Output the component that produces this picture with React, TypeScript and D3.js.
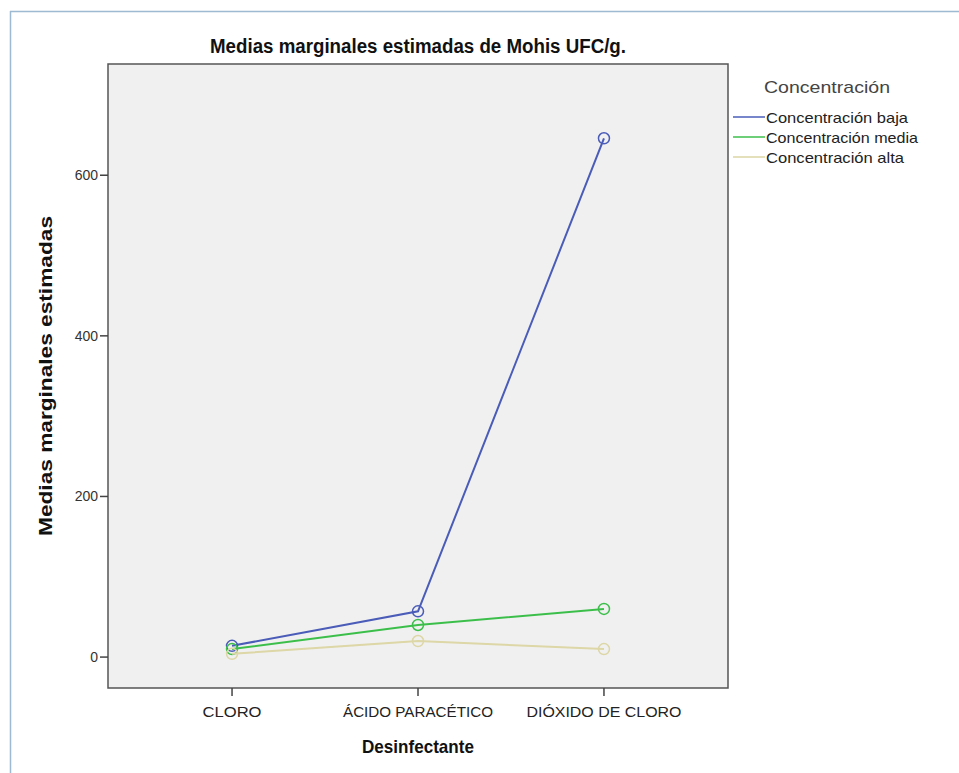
import React from "react";
import * as d3 from "d3";

const categories = ["CLORO", "ÁCIDO PARACÉTICO", "DIÓXIDO DE CLORO"];
const categoryWidths = [59, 150, 155];
const seriesNames = ["Concentración baja", "Concentración media", "Concentración alta"];
const legendWidths = [142, 152, 138];
const bajaValues = [14, 57, 646];
const mediaValues = [10, 40, 60];
const altaValues = [4, 20, 10];
const yTicks = [0, 200, 400, 600];
const colors = ["#4a5cb8", "#3cbf4a", "#ddd6a6"];

const W = 959;
const H = 773;
const plot = { left: 108, top: 64, right: 728, bottom: 688 };

export default function App() {
  const x = d3
    .scalePoint<string>()
    .domain(categories)
    .range([plot.left, plot.right])
    .padding(0.667);
  const y = d3
    .scaleLinear()
    .domain([-38.5, 738.5])
    .range([plot.bottom, plot.top]);

  const series = [bajaValues, mediaValues, altaValues];
  const line = d3
    .line<number>()
    .x((_, i) => x(categories[i]) as number)
    .y((d) => y(d));

  const font = "'Liberation Sans', Arial, sans-serif";
  const cx = (plot.left + plot.right) / 2;
  const cy = (plot.top + plot.bottom) / 2;

  return (
    <svg
      width={W}
      height={H}
      style={{ position: "absolute", left: 0, top: 0, background: "#fff" }}
      fontFamily={font}
    >
      <rect x={0} y={0} width={W} height={H} fill="#fff" />
      <line x1={10.5} y1={11} x2={10.5} y2={H} stroke="#9dbad2" strokeWidth={1.5} />
      <line x1={10} y1={11.5} x2={W} y2={11.5} stroke="#9dbad2" strokeWidth={1.5} />

      <text
        x={cx}
        y={53}
        textAnchor="middle"
        fontSize={20}
        fontWeight="bold"
        fill="#111"
        textLength={416}
        lengthAdjust="spacingAndGlyphs"
      >
        Medias marginales estimadas de Mohis UFC/g.
      </text>

      <rect
        x={plot.left}
        y={plot.top}
        width={plot.right - plot.left}
        height={plot.bottom - plot.top}
        fill="#f0f0f0"
        stroke="#555"
        strokeWidth={1.5}
      />

      {yTicks.map((t) => (
        <g key={t}>
          <line x1={plot.left - 8} x2={plot.left} y1={y(t)} y2={y(t)} stroke="#444" strokeWidth={1.5} />
          <text x={plot.left - 10} y={y(t) + 5} textAnchor="end" fontSize={14} fill="#333">
            {t}
          </text>
        </g>
      ))}

      {categories.map((c, i) => (
        <g key={c}>
          <line
            x1={x(c)}
            x2={x(c)}
            y1={plot.bottom}
            y2={plot.bottom + 8}
            stroke="#444"
            strokeWidth={1.5}
          />
          <text
            x={x(c)}
            y={plot.bottom + 29}
            textAnchor="middle"
            fontSize={15}
            fill="#222"
            textLength={categoryWidths[i]}
            lengthAdjust="spacingAndGlyphs"
          >
            {c}
          </text>
        </g>
      ))}

      <text
        x={cx}
        y={753}
        textAnchor="middle"
        fontSize={19}
        fontWeight="bold"
        fill="#111"
        textLength={112}
        lengthAdjust="spacingAndGlyphs"
      >
        Desinfectante
      </text>
      <text
        transform={`translate(52, ${cy}) rotate(-90)`}
        textAnchor="middle"
        fontSize={19}
        fontWeight="bold"
        fill="#111"
        textLength={320}
        lengthAdjust="spacingAndGlyphs"
      >
        Medias marginales estimadas
      </text>

      {series.map((s, si) => (
        <g key={si}>
          <path d={line(s) || ""} fill="none" stroke={colors[si]} strokeWidth={2} />
          {s.map((v, i) => (
            <circle
              key={i}
              cx={x(categories[i])}
              cy={y(v)}
              r={5.5}
              fill="none"
              stroke={colors[si]}
              strokeWidth={1.5}
            />
          ))}
        </g>
      ))}

      <text
        x={764}
        y={93}
        fontSize={17}
        fill="#444"
        textLength={126}
        lengthAdjust="spacingAndGlyphs"
      >
        Concentración
      </text>
      {seriesNames.map((n, i) => (
        <g key={n}>
          <line x1={733} x2={765} y1={117 + i * 20} y2={117 + i * 20} stroke={colors[i]} strokeWidth={1.5} />
          <text
            x={766}
            y={122.5 + i * 20}
            fontSize={15}
            fill="#222"
            textLength={legendWidths[i]}
            lengthAdjust="spacingAndGlyphs"
          >
            {n}
          </text>
        </g>
      ))}
    </svg>
  );
}
